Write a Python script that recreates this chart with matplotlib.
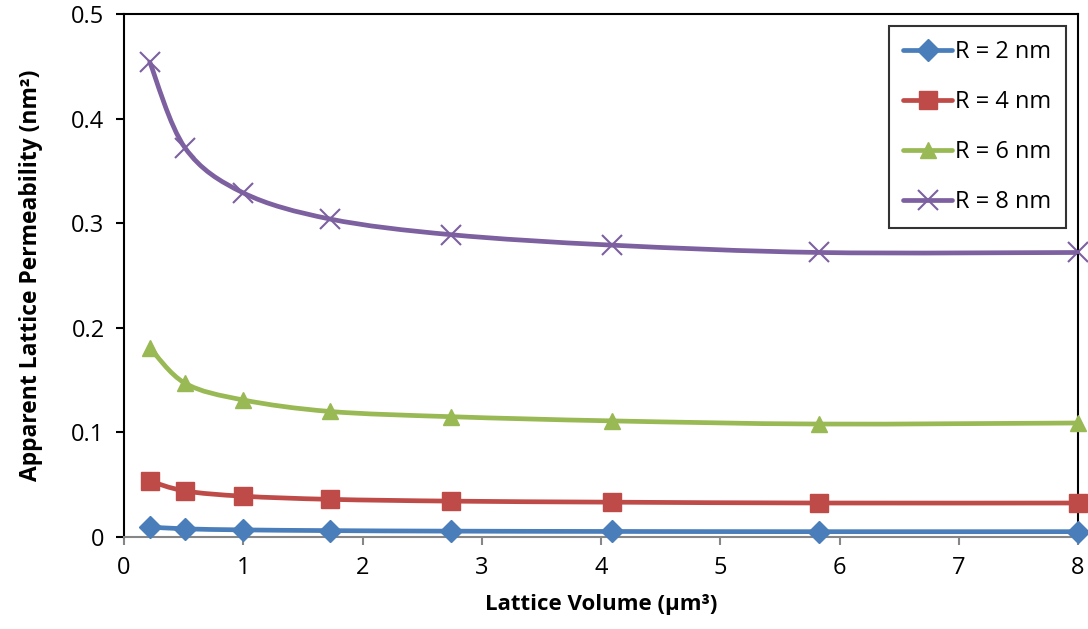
import matplotlib.pyplot as plt
import numpy as np
from matplotlib.path import Path
from matplotlib.patches import PathPatch
from matplotlib.lines import Line2D

plt.rcParams['font.family'] = ['Open Sans', 'DejaVu Sans']

# lattice volume (um^3) at each sample
volume = [0.216, 0.512, 1.0, 1.728, 2.744, 4.096, 5.832, 8.0]

perm_r2 = [0.0096, 0.0078, 0.0068, 0.0061, 0.0056, 0.0053, 0.0051, 0.0051]
perm_r4 = [0.0535, 0.0440, 0.0390, 0.0360, 0.0343, 0.0333, 0.0325, 0.0325]
perm_r6 = [0.181, 0.147, 0.131, 0.120, 0.115, 0.111, 0.108, 0.109]
perm_r8 = [0.454, 0.372, 0.329, 0.304, 0.289, 0.279, 0.272, 0.272]

labels = ['R = 2 nm', 'R = 4 nm', 'R = 6 nm', 'R = 8 nm']
series = [perm_r2, perm_r4, perm_r6, perm_r8]
colors = ['#4A7EBB', '#BE4B48', '#98B954', '#7D60A0']
markers = ['D', 's', '^', 'x']
msizes = [11.5, 13, 12, 15]


def smooth_path(x, y):
    # excel-style bezier smoothing through the data points
    pts = np.column_stack([x, y])
    n = len(pts)
    verts = [pts[0]]
    codes = [Path.MOVETO]
    for i in range(n - 1):
        p0 = pts[i - 1] if i > 0 else pts[i]
        p1 = pts[i]
        p2 = pts[i + 1]
        p3 = pts[i + 2] if i + 2 < n else pts[i + 1]
        c1 = p1 + (p2 - p0) / 6.0
        c2 = p2 - (p3 - p1) / 6.0
        verts += [c1, c2, p2]
        codes += [Path.CURVE4] * 3
    return Path(verts, codes)


fig = plt.figure(figsize=(10.88, 6.29), dpi=100)
ax = fig.add_axes([124 / 1088, 1 - 537 / 629, (1078 - 124) / 1088, (537 - 14) / 629])

handles = []
for ys, c, m, ms, lab in zip(series, colors, markers, msizes, labels):
    patch = PathPatch(smooth_path(volume, ys), facecolor='none', edgecolor=c,
                      lw=3.4, capstyle='round', joinstyle='round', zorder=2)
    ax.add_patch(patch)
    if m == 'x':
        ax.plot(volume, ys, ls='none', marker=m, ms=ms, mew=1.5, color=c, zorder=3, clip_on=False)
    else:
        ax.plot(volume, ys, ls='none', marker=m, ms=ms, mec=c, mfc=c, color=c, zorder=3, clip_on=False)
    handles.append(Line2D([0], [0], color=c, lw=3.4, marker=m, ms=ms,
                          mew=1.5 if m == 'x' else 1.0, solid_capstyle='round'))

ax.set_xlim(0, 8)
ax.set_ylim(0, 0.5)
ax.set_xticks(range(0, 9))
ax.set_yticks([0, 0.1, 0.2, 0.3, 0.4, 0.5])
ax.set_yticklabels(['0', '0.1', '0.2', '0.3', '0.4', '0.5'])

for s in ['top', 'right', 'left']:
    ax.spines[s].set_color('black')
    ax.spines[s].set_linewidth(1.5)
ax.spines['bottom'].set_color('#868686')
ax.spines['bottom'].set_linewidth(1.5)
ax.tick_params(axis='y', direction='out', length=6, width=1.5, color='black', labelsize=17, pad=8)
ax.tick_params(axis='x', direction='out', length=6, width=1.5, color='#868686', labelsize=17, pad=8)

ax.set_xlabel('Lattice Volume (\u00b5m\u00b3)', fontsize=16, fontweight='bold', labelpad=10)
ax.set_ylabel('Apparent Lattice Permeability (nm\u00b2)', fontsize=16.5, fontweight='bold', labelpad=20)

leg = ax.legend(handles, labels, loc='upper right', bbox_to_anchor=(0.987, 0.977),
                fontsize=17, frameon=True, fancybox=False, handlelength=2.1,
                labelspacing=1.1, borderpad=0.6, handletextpad=0.12, borderaxespad=0)
leg.get_frame().set_edgecolor('black')
leg.get_frame().set_linewidth(1.5)

fig.savefig('out.png', dpi=100)
